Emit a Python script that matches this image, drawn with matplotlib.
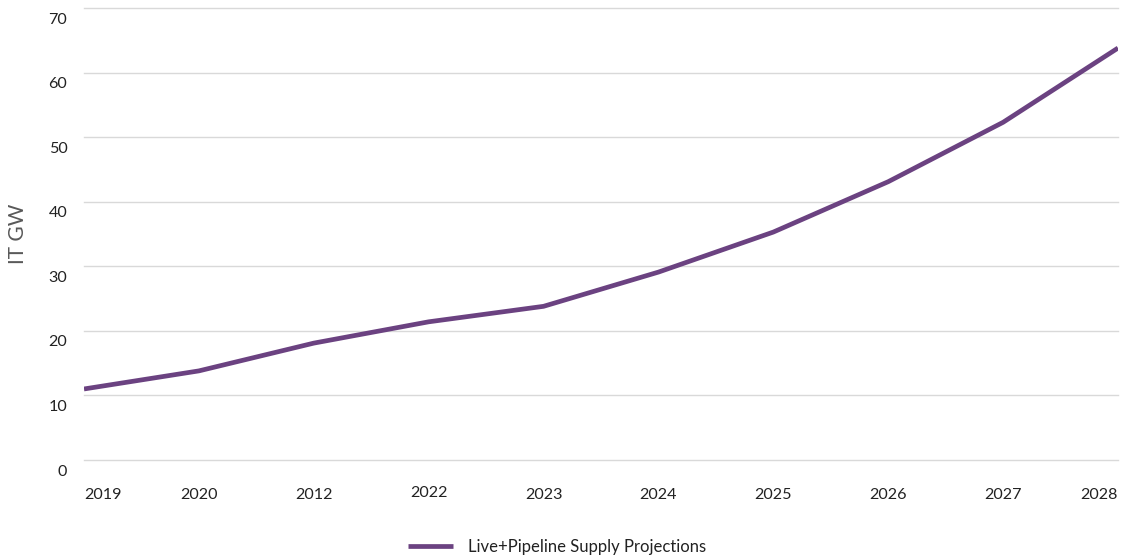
import numpy as np
import matplotlib
matplotlib.use("Agg")
import matplotlib.pyplot as plt
import matplotlib.transforms as mtransforms

plt.rcParams["font.family"] = ["Lato", "DejaVu Sans"]

# ─── Data ────────────────────────────────────────────────────────────────────
years = ["2019", "2020", "2012", "2022", "2023", "2024", "2025", "2026", "2027", "2028"]
supply_gw = [11.0, 13.8, 18.1, 21.4, 23.8, 29.1, 35.3, 43.1, 52.3, 63.8]
y_ticks = [0, 10, 20, 30, 40, 50, 60, 70]

LINE = "#6b4281"
GRID = "#d9d9d9"
TEXT = "#222222"

fig = plt.figure(figsize=(11.24, 5.59), dpi=100)
ax = fig.add_axes([84 / 1124, 1 - 460 / 559, (1118 - 84) / 1124, (460 - 8) / 559])

x = np.arange(len(years))
ax.plot(x, supply_gw, color=LINE, lw=3.4, solid_capstyle="butt",
        label="Live+Pipeline Supply Projections", zorder=3)

ax.set_xlim(0, len(years) - 1)
ax.set_ylim(0, 70)
ax.set_yticks(y_ticks)
ax.yaxis.grid(True, color=GRID, lw=1)
for gl in ax.get_ygridlines():
    gl.set_clip_on(False)
ax.set_axisbelow(True)
for sp in ax.spines.values():
    sp.set_visible(False)

ax.set_xticks(x)
ax.set_xticklabels(years)
ax.tick_params(axis="x", length=0, pad=20.5, labelsize=11.6, labelcolor=TEXT)
ax.tick_params(axis="y", length=0, pad=12, labelsize=11.6, labelcolor=TEXT)

# Y labels sit a little below their gridlines
shift = mtransforms.ScaledTranslation(0, -10 / 100, fig.dpi_scale_trans)
for lbl in ax.get_yticklabels():
    lbl.set_transform(lbl.get_transform() + shift)

xl = ax.get_xticklabels()
xl[0].set_ha("left")
xl[-1].set_ha("right")
up = mtransforms.ScaledTranslation(0, 2 / 100, fig.dpi_scale_trans)
xl[3].set_transform(xl[3].get_transform() + up)

fig.text(18 / 1124, 1 - 234 / 559, "IT GW", rotation=90, ha="center", va="center",
         fontsize=15, color="#595959")

fig.legend(loc="center", bbox_to_anchor=(557 / 1124, 1 - 547 / 559), frameon=False,
           fontsize=12, handlelength=2.7, handletextpad=0.85,
           labelcolor=TEXT)

fig.savefig("out.png", dpi=100)
